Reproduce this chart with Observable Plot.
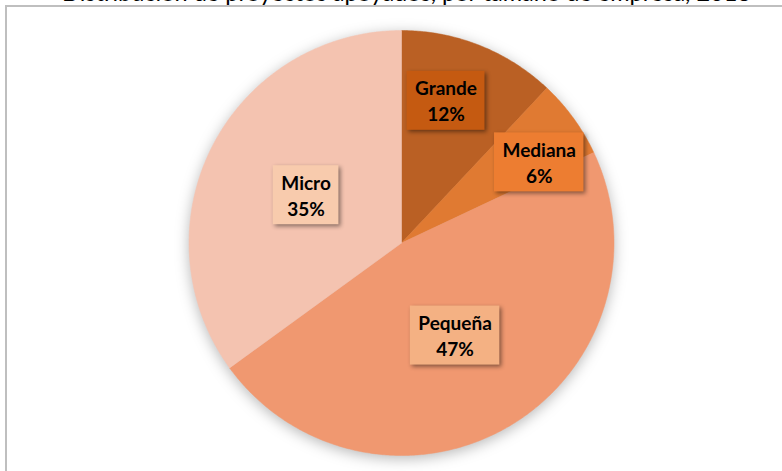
<!DOCTYPE html>
<html><head><meta charset="utf-8">
<script src="https://cdn.jsdelivr.net/npm/d3@7"></script>
<script src="https://cdn.jsdelivr.net/npm/@observablehq/plot@0.6"></script>
<style>
html,body{margin:0;padding:0;background:#fff;overflow:hidden;width:782px;height:471px}
#wrap{position:relative;width:782px;height:471px;overflow:hidden}
#title{position:absolute;left:62px;top:-22px;line-height:23px;font:23.5px Lato,sans-serif;white-space:nowrap;color:#000}
#frame{position:absolute;left:5px;top:5px;width:820px;height:520px;border-left:2px solid #BFBFBF;border-top:2px solid #BFBFBF;pointer-events:none}
#chart{position:absolute;left:0;top:0}
</style></head>
<body><div id="wrap"><div id="title">Distribución de proyectos apoyados, por tamaño de empresa, 2018</div><div id="chart"></div><div id="frame"></div></div>
<script>
// ---- data ----
const categories = ["Grande", "Mediana", "Pequeña", "Micro"];
const shares = [12, 6, 47, 35];
const percentLabels = ["12%", "6%", "47%", "35%"];
const sliceColors = ["#BA6024", "#E07A32", "#F09870", "#F4C3B0"];
const boxColors = ["#C55A11", "#ED7D31", "#F4B183", "#F8CBAD"];

// ---- layout (label placement: radius fraction & angular nudge in degrees) ----
const labelRadius = [0.705, 0.753, 0.5, 0.504];
const labelNudge = [-4.3, 5.4, 0.3, 0];

const pie = d3.pie().sort(null).value(d => d.value).startAngle(0).endAngle(2 * Math.PI);
const rows = categories.map((c, i) => ({name: c, value: shares[i], pct: percentLabels[i], i}));
const arcs = pie(rows);

// polygon outline of each slice in unit-circle coordinates
const outline = [];
arcs.forEach(a => {
  const name = a.data.name;
  outline.push({name, x: 0, y: 0});
  const steps = Math.max(2, Math.ceil((a.endAngle - a.startAngle) / (Math.PI / 360)));
  for (let k = 0; k <= steps; k++) {
    const t = a.startAngle + (a.endAngle - a.startAngle) * k / steps;
    outline.push({name, x: Math.sin(t), y: Math.cos(t)});
  }
  outline.push({name, x: 0, y: 0});
});

const labels = arcs.map((a, i) => {
  const mid = (a.startAngle + a.endAngle) / 2 + labelNudge[i] * Math.PI / 180;
  return {name: a.data.name, text: a.data.name + "\n" + a.data.pct, x: labelRadius[i] * Math.sin(mid), y: labelRadius[i] * Math.cos(mid), box: boxColors[i]};
});

const plot = Plot.plot({
  width: 782,
  height: 471,
  margin: 0,
  style: {background: "none", overflow: "visible"},
  x: {domain: [-1, 1], range: [188.5, 613.5], axis: null},
  y: {domain: [-1, 1], range: [455, 30], axis: null},
  color: {domain: categories, range: sliceColors},
  marks: [
    Plot.line(outline, {x: "x", y: "y", z: "name", fill: "name", stroke: "name", strokeWidth: 0.5, curve: "linear"}),
    Plot.text(labels, {x: "x", y: "y", text: "text", fontSize: 19, fontWeight: "bold", fontFamily: "Lato, sans-serif", lineHeight: 1.37, fill: "#000"})
  ]
});
document.getElementById("chart").appendChild(plot);

const lineG = plot.querySelector('g[aria-label="line"]');
if (lineG) lineG.style.filter = "drop-shadow(0px 3px 7px rgba(0,0,0,0.28))";

const textG = plot.querySelector('g[aria-label="text"]');
if (textG) {
  const ns = "http://www.w3.org/2000/svg";
  const boxG = document.createElementNS(ns, "g");
  boxG.setAttribute("aria-label", "label boxes");
  boxG.style.filter = "drop-shadow(2px 2px 2px rgba(0,0,0,0.45))";
  textG.parentNode.insertBefore(boxG, textG);
  const texts = textG.querySelectorAll("text");
  texts.forEach((t, i) => {
    const b = t.getBBox();
    let tx = 0, ty = 0;
    const tr = t.getAttribute("transform");
    if (tr) { const m = tr.match(/translate\(([-\d.e]+),\s*([-\d.e]+)\)/); if (m) { tx = +m[1]; ty = +m[2]; } }
    const r = document.createElementNS(ns, "rect");
    r.setAttribute("x", b.x + tx - 8);
    r.setAttribute("y", b.y + ty - 5);
    r.setAttribute("width", b.width + 16);
    r.setAttribute("height", b.height + 10);
    r.setAttribute("fill", labels[i].box);
    boxG.appendChild(r);
  });
}
</script>
</body></html>
